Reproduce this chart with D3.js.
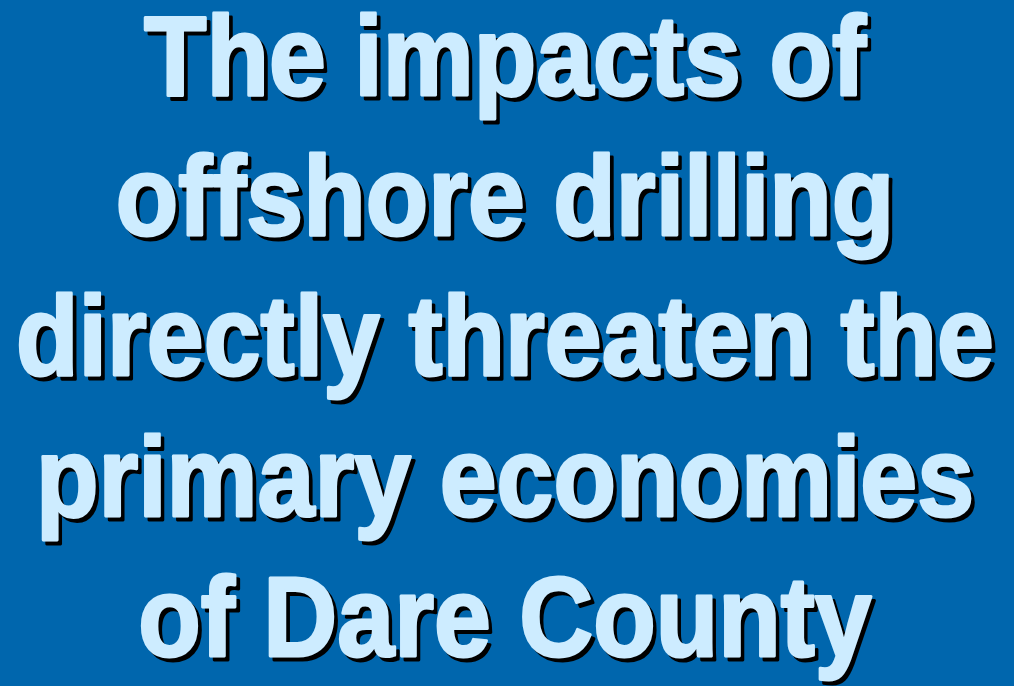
<!DOCTYPE html>
<html>
<head>
<meta charset="utf-8">
<script src="https://cdn.jsdelivr.net/npm/d3@7"></script>
<style>
  html, body { margin: 0; padding: 0; background: #0066ad; }
  svg { display: block; }
</style>
</head>
<body>
<div id="slide"></div>
<script>
const titleLines = ['The impacts of', 'offshore drilling', 'directly threaten the', 'primary economies', 'of Dare County'];

const w = 1014;
const h = 686;

const svg = d3.select('#slide')
    .append('svg')
    .attr('width', w)
    .attr('height', h);

svg.append('rect')
    .attr('width', w)
    .attr('height', h)
    .attr('fill', '#0066ad');

// baselines of each line
const yScale = d3.scalePoint()
    .domain(d3.range(titleLines.length))
    .range([95, 656]);

const fontSize = 113;
const shadow = 4;

const g = svg.append('g');

function addLines(cls, dx, dy, fill) {
    return g.selectAll('text.' + cls)
        .data(titleLines)
        .enter()
        .append('text')
        .attr('class', cls)
        .attr('x', w / 2 + dx)
        .attr('y', (d, i) => yScale(i) + dy)
        .attr('text-anchor', 'middle')
        .attr('font-family', '"Liberation Sans Narrow", "Arial Narrow", sans-serif')
        .attr('font-weight', 'bold')
        .attr('font-size', fontSize)
        .attr('fill', fill)
        .attr('stroke', fill)
        .attr('stroke-width', 3)
        .attr('stroke-linejoin', 'round')
        .text(d => d);
}

addLines('shadow', shadow, shadow, '#000000');
const front = addLines('front', 0, 0, '#cdecff');

// stretch horizontally so the widest line fills the slide like the original
const widest = d3.max(front.nodes(), n => n.getComputedTextLength());
const sx = 978 / widest;
g.attr('transform', `translate(${w / 2 - 2}, 0) scale(${sx}, 1) translate(${-w / 2}, 0)`);
</script>
</body>
</html>
